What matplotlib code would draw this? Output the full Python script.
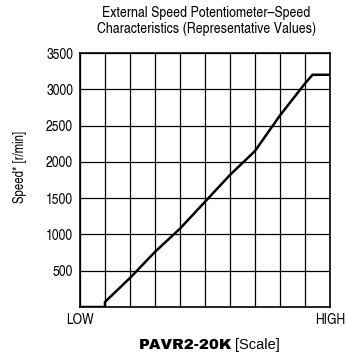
import matplotlib
matplotlib.use("Agg")
import matplotlib.pyplot as plt

# potentiometer scale position (0 = LOW, 10 = HIGH) vs. motor speed
scale_pos = [0, 1, 1, 2, 3, 4, 5, 6, 7, 8, 9, 9.3, 10]
speed = [0, 0, 70, 400, 760, 1080, 1450, 1820, 2150, 2640, 3080, 3200, 3200]

y_ticks = [500, 1000, 1500, 2000, 2500, 3000, 3500]
x_ticks = [0, 10]
x_tick_labels = ["LOW", "HIGH"]

plt.rcParams["font.family"] = ["TeX Gyre Heros Cn", "DejaVu Sans"]

fig = plt.figure(figsize=(3.46, 3.56), dpi=100)
ax = fig.add_axes([80 / 346, 1 - 307 / 356, 250 / 346, 254 / 356])

ax.plot(scale_pos, speed, color="black", lw=1.8, solid_joinstyle="miter")

ax.set_xlim(0, 10)
ax.set_ylim(0, 3500)
ax.set_xticks(range(0, 11), minor=True)
ax.set_xticks(x_ticks)
ax.set_xticklabels(x_tick_labels, fontsize=10.7)
ax.set_yticks(y_ticks)
ax.set_yticklabels([str(v) for v in y_ticks], fontsize=10.7)
ax.tick_params(which="both", length=0)
ax.tick_params(axis="y", pad=5)
ax.tick_params(axis="x", pad=4.5)
ax.grid(True, which="both", color="black", lw=0.9)
for s in ax.spines.values():
    s.set_linewidth(1.2)

fig.text(206 / 346, 1 - 12.5 / 356, "External Speed Potentiometer\u2013Speed",
         ha="center", va="center", fontsize=10.9)
fig.text(207 / 346, 1 - 29.5 / 356, "Characteristics (Representative Values)",
         ha="center", va="center", fontsize=10.9)

fig.text(20 / 346, 1 - 167 / 356, "Speed* [r/min]", rotation=90,
         ha="center", va="center", fontsize=10)

fig.text(232 / 346, 1 - 345 / 356, "PAVR2-20K", ha="right", va="center",
         fontsize=10.8, family=["Archivo Black", "DejaVu Sans"])
fig.text(235 / 346, 1 - 345 / 356, "[Scale]", ha="left", va="center",
         fontsize=10.5, family=["Liberation Sans", "DejaVu Sans"])

fig.savefig("out.png", dpi=100)
